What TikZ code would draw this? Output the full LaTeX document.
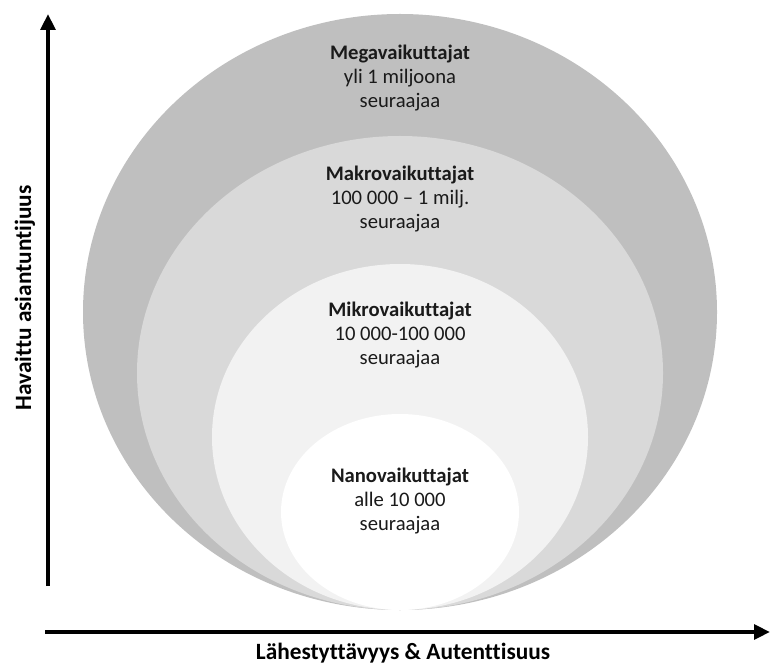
\documentclass[tikz,border=0pt]{standalone}
\usepackage{fontspec}
\setmainfont{Carlito}[Ligatures={NoCommon}]
\usepackage{tikz}
\usetikzlibrary{arrows.meta,positioning}
\definecolor{megagray}{HTML}{BFBFBF}
\definecolor{makrogray}{HTML}{D9D9D9}
\definecolor{mikrogray}{HTML}{F2F2F2}
\definecolor{inkgray}{HTML}{1A1A1A}
\tikzset{
  tier/.style={align=center, text=inkgray, inner sep=0pt, font=\fontsize{15.5}{18}\selectfont},
  axis/.style={-{Triangle[length=12pt, width=11pt]}, line width=3pt, draw=black},
  axislabel/.style={inner sep=0pt, font=\fontsize{17.5}{20}\selectfont\bfseries}
}
\begin{document}
\begin{tikzpicture}[x=0.75pt, y=-0.75pt]
  \useasboundingbox (0,0) rectangle (770,666);
  % nested circles, all standing on the same bottom point
  \fill[megagray] (400,312) ellipse [x radius=317, y radius=298];
  \fill[makrogray] (400,373) ellipse [x radius=263, y radius=237];
  \fill[mikrogray] (400,437) ellipse [x radius=188, y radius=173];
  \fill[white] (400,512) ellipse [x radius=119, y radius=98];

  \node[tier] (mega) at (400,78) {\textbf{Megavaikuttajat}\\yli 1 miljoona\\seuraajaa};
  \node[tier] (makro) at (400,199) {\textbf{Makrovaikuttajat}\\100 000 – 1 milj.\\seuraajaa};
  \node[tier] (mikro) at (400,335) {\textbf{Mikrovaikuttajat}\\10 000-100 000\\seuraajaa};
  \node[tier] (nano) at (400,501) {\textbf{Nanovaikuttajat}\\alle 10 000\\seuraajaa};

  % axes
  \coordinate (ybase) at (48,586);
  \coordinate (ytip) at (48,14);
  \coordinate (xbase) at (45,632);
  \coordinate (xtip) at (770,632);
  \draw[axis] (ybase) -- (ytip);
  \draw[axis] (xbase) -- (xtip);

  \node[axislabel, rotate=90] (expertise) at (25,298) {Havaittu asiantuntijuus};
  \node[axislabel] (closeness) at (403,653) {Lähestyttävyys \& Autenttisuus};
\end{tikzpicture}
\end{document}
